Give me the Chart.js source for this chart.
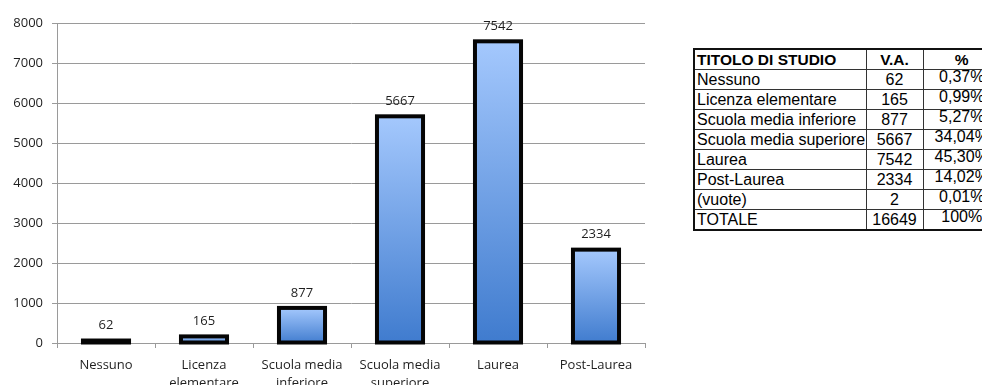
<!DOCTYPE html>
<html>
<head>
<meta charset="utf-8">
<script src="https://cdn.jsdelivr.net/npm/chart.js@4/dist/chart.umd.min.js"></script>
<style>
  body { margin: 0; background: #fff; overflow: hidden; width: 982px; height: 385px; position: relative; }
  #wrap { position: absolute; left: 0; top: 0; width: 660px; height: 400px; }
  #tabella { position: absolute; left: 693px; top: 48px; width: 307px; table-layout: fixed; border-collapse: collapse;
    font-family: 'Liberation Sans', Arial, sans-serif; font-size: 16px; color: #000;
    border: 2px solid #111; }
  #tabella td { border: 1px solid #333; height: 19px; padding: 0 2px; line-height: 18px; white-space: nowrap; overflow: visible; }
  #tabella tr.head td { font-weight: bold; font-size: 15.5px; }
  #tabella td.num { text-align: center; }
  #tabella td.pct { text-align: center; }
  #tabella td.pct span { position: relative; top: -3px; }
</style>
</head>
<body>
<div id="wrap"><canvas id="myChart"></canvas></div>
<table id="tabella"></table>
<script>
// data
const titoli = ['Nessuno', 'Licenza elementare', 'Scuola media inferiore', 'Scuola media superiore', 'Laurea', 'Post-Laurea'];
const etichetteAsse = [['Nessuno'], ['Licenza', 'elementare'], ['Scuola media', 'inferiore'], ['Scuola media', 'superiore'], ['Laurea'], ['Post-Laurea']];
const valori = [62, 165, 877, 5667, 7542, 2334];
const percentuali = ['0,37%', '0,99%', '5,27%', '34,04%', '45,30%', '14,02%'];
const vuote = ['(vuote)', 2, '0,01%'];
const totale = ['TOTALE', 16649, '100%'];
const intestazione = ['TITOLO DI STUDIO', 'V.A.', '%'];

// builds the table on the right
const tab = document.getElementById('tabella');
const colonne = '<colgroup><col style="width:172px"><col style="width:57px"><col style="width:78px"></colgroup>';
let righe = '<tr class="head"><td>' + intestazione[0] + '</td><td class="num">' + intestazione[1] + '</td><td class="pct">' + intestazione[2] + '</td></tr>';
const tutte = titoli.map((t, i) => [t, valori[i], percentuali[i]]).concat([vuote, totale]);
tutte.forEach(r => {
    righe += '<tr><td>' + r[0] + '</td><td class="num">' + r[1] + '</td><td class="pct"><span>' + r[2] + '</span></td></tr>';
});
tab.innerHTML = colonne + righe;

// gradient for each bar, light at the top and darker at the base
function sfumatura(c) {
    const y = c.chart.scales.y;
    if (!y || c.raw === undefined) return '#6f9fe6';
    const top = y.getPixelForValue(c.raw);
    const base = y.getPixelForValue(0);
    if (!isFinite(top) || !isFinite(base)) return '#6f9fe6';
    const g = c.chart.ctx.createLinearGradient(0, top, 0, base + 1);
    g.addColorStop(0, '#a4c8fd');
    g.addColorStop(1, '#3f7bce');
    return g;
}

// black outline centred on the bar edges (like the original) and the value above
const valoriSopra = {
    id: 'valoriSopra',
    afterDatasetsDraw(chart) {
        const ctx = chart.ctx;
        const meta = chart.getDatasetMeta(0);
        ctx.save();
        ctx.strokeStyle = '#050505';
        ctx.lineWidth = 4;
        meta.data.forEach(bar => {
            const w = bar.width;
            ctx.strokeRect(bar.x - w / 2, bar.y, w, bar.base - bar.y);
        });
        ctx.font = '13px "Open Sans"';
        ctx.fillStyle = '#1f1f1f';
        ctx.textAlign = 'center';
        ctx.textBaseline = 'middle';
        meta.data.forEach((bar, i) => {
            ctx.fillText(valori[i], bar.x, bar.y - 15);
        });
        ctx.restore();
    }
};

const ctx = document.getElementById('myChart').getContext('2d');
new Chart(ctx, {
    type: 'bar',
    data: {
        labels: etichetteAsse,
        datasets: [{
            data: valori,
            backgroundColor: sfumatura,
            borderWidth: 0,
            inflateAmount: 0,
            barPercentage: 0.47,
            categoryPercentage: 1
        }]
    },
    options: {
        responsive: true,
        maintainAspectRatio: false,
        animation: false,
        layout: { padding: { top: 23, right: 15, left: 0, bottom: 0 } },
        plugins: { legend: { display: false }, tooltip: { enabled: false } },
        scales: {
            y: {
                min: 0,
                max: 8000,
                ticks: { stepSize: 1000, padding: 9, color: '#1f1f1f', font: { family: 'Open Sans', size: 13 }, callback: v => String(v) },
                grid: { color: '#9a9a9a', tickLength: 5 },
                border: { color: '#9a9a9a' },
                afterFit: s => { s.width = 57; }
            },
            x: {
                ticks: { padding: 8, color: '#1f1f1f', maxRotation: 0, autoSkip: false, font: { family: 'Open Sans', size: 13, lineHeight: 1.4 } },
                grid: { drawOnChartArea: false, color: '#9a9a9a', tickLength: 5 },
                border: { color: '#9a9a9a' },
                afterFit: s => { s.height = 57; }
            }
        }
    },
    plugins: [valoriSopra]
});
</script>
</body>
</html>
